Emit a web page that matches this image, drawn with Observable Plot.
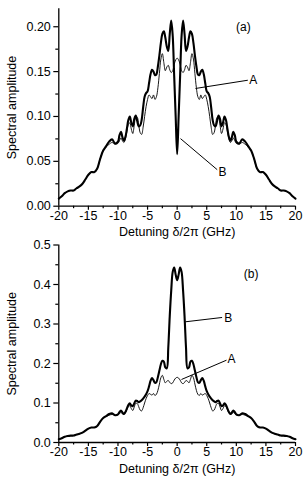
<!DOCTYPE html>
<html><head><meta charset="utf-8">
<script src="https://cdn.jsdelivr.net/npm/d3@7"></script>
<script src="https://cdn.jsdelivr.net/npm/@observablehq/plot@0.6"></script>
<style>
body{margin:0;background:#fff;}
#chart svg{display:block;}
</style></head><body><div id="chart"></div>
<script>
// Detuning grid (GHz)
const detuning = [-20,-19.5,-19,-18.5,-18,-17.5,-17,-16.5,-16,-15.5,-15,-14.5,-14,-13.5,-13,-12.5,-12,-11.5,-11,-10.5,
-10,-9.75,-9.5,-9.25,-9,-8.75,-8.5,-8.25,-8,-7.75,-7.5,-7.25,-7,-6.75,-6.5,-6.25,-6,-5.75,-5.5,-5.25,-5,-4.75,-4.5,-4.25,-4,-3.75,-3.5,-3.25,-3,-2.75,-2.5,-2.25,-2,-1.75,-1.5,-1.25,-1,-0.75,-0.5,-0.25,0,
0.25,0.5,0.75,1,1.25,1.5,1.75,2,2.25,2.5,2.75,3,3.25,3.5,3.75,4,4.25,4.5,4.75,5,5.25,5.5,5.75,6,6.25,6.5,6.75,7,7.25,7.5,7.75,8,8.25,8.5,8.75,9,9.25,9.5,9.75,10,
10.5,11,11.5,12,12.5,13,13.5,14,14.5,15,15.5,16,16.5,17,17.5,18,18.5,19,19.5,20];

// Curve A (thin) – same in both panels
const curveA = [0.0085,0.011,0.0145,0.0165,0.0175,0.0175,0.020,0.022,0.025,0.030,0.035,0.038,0.038,0.042,0.053,0.062,0.066,0.069,0.071,0.069,
0.070,0.073,0.076,0.073,0.071,0.075,0.083,0.091,0.093,0.086,0.081,0.090,0.099,0.099,0.091,0.082,0.080,0.088,0.100,0.111,0.119,0.124,0.122,0.120,0.124,0.119,0.122,0.132,0.148,0.164,0.170,0.160,0.151,0.155,0.157,0.152,0.149,0.151,0.158,0.163,0.165,
0.163,0.158,0.151,0.149,0.152,0.157,0.155,0.151,0.160,0.170,0.164,0.148,0.132,0.122,0.119,0.124,0.120,0.122,0.124,0.119,0.111,0.100,0.088,0.080,0.082,0.091,0.099,0.099,0.090,0.081,0.086,0.093,0.091,0.083,0.075,0.071,0.073,0.076,0.073,0.070,
0.069,0.071,0.069,0.066,0.062,0.053,0.042,0.038,0.038,0.035,0.030,0.025,0.022,0.020,0.0175,0.0175,0.0165,0.0145,0.011,0.0085];

// Curve B (thick), panel (a)
const curveBa = [0.0085,0.011,0.0145,0.0165,0.0175,0.0175,0.020,0.022,0.025,0.030,0.035,0.038,0.038,0.042,0.053,0.062,0.067,0.072,0.0745,0.070,
0.072,0.079,0.083,0.077,0.073,0.077,0.086,0.096,0.100,0.093,0.089,0.097,0.101,0.095,0.089,0.090,0.096,0.110,0.122,0.126,0.128,0.137,0.147,0.152,0.150,0.146,0.147,0.156,0.168,0.182,0.192,0.195,0.188,0.178,0.173,0.192,0.207,0.190,0.145,0.100,0.058,
0.100,0.145,0.190,0.207,0.192,0.173,0.178,0.188,0.195,0.192,0.182,0.168,0.156,0.147,0.146,0.150,0.152,0.147,0.137,0.128,0.126,0.122,0.110,0.096,0.090,0.089,0.095,0.101,0.097,0.089,0.093,0.100,0.096,0.086,0.077,0.073,0.077,0.083,0.079,0.072,
0.070,0.0745,0.072,0.067,0.062,0.053,0.042,0.038,0.038,0.035,0.030,0.025,0.022,0.020,0.0175,0.0175,0.0165,0.0145,0.011,0.0085];

// Curve B (thick), panel (b)
const curveBb = [0.0085,0.011,0.0145,0.0165,0.0175,0.0175,0.020,0.022,0.025,0.030,0.035,0.038,0.038,0.042,0.053,0.062,0.067,0.072,0.074,0.069,
0.071,0.077,0.081,0.076,0.072,0.077,0.086,0.095,0.099,0.094,0.092,0.099,0.106,0.105,0.102,0.104,0.107,0.111,0.116,0.122,0.130,0.142,0.156,0.163,0.158,0.151,0.153,0.166,0.182,0.198,0.207,0.205,0.190,0.188,0.240,0.320,0.385,0.432,0.443,0.425,0.411,
0.425,0.443,0.432,0.385,0.320,0.240,0.188,0.190,0.205,0.207,0.198,0.182,0.166,0.153,0.151,0.158,0.163,0.156,0.142,0.130,0.122,0.116,0.111,0.107,0.104,0.102,0.105,0.106,0.099,0.092,0.094,0.099,0.095,0.086,0.077,0.072,0.076,0.081,0.077,0.071,
0.069,0.074,0.072,0.067,0.062,0.053,0.042,0.038,0.038,0.035,0.030,0.025,0.022,0.020,0.0175,0.0175,0.0165,0.0145,0.011,0.0085];

// Axis ticks
const xMajor = [-20,-15,-10,-5,0,5,10,15,20];
const xMinor = [-17.5,-12.5,-7.5,-2.5,2.5,7.5,12.5,17.5];
const yMajorA = [0,0.05,0.10,0.15,0.20];
const yMinorA = [0.025,0.075,0.125,0.175];
const yMajorB = [0,0.1,0.2,0.3,0.4,0.5];
const yMinorB = [0.05,0.15,0.25,0.35,0.45];

// Annotations
const notesA = [{x:11.2,y:0.200,t:"(a)"},{x:12.85,y:0.1401,t:"A"},{x:7.66,y:0.0374,t:"B"}];
const linksA = [{x1:3.1,y1:0.1312,x2:11.94,y2:0.1404},{x1:0.57,y1:0.0753,x2:6.77,y2:0.0407}];
const notesB = [{x:12.5,y:0.4266,t:"(b)"},{x:8.62,y:0.3139,t:"B"},{x:9.19,y:0.2118,t:"A"}];
const linksB = [{x1:1.41,y1:0.3056,x2:7.6,y2:0.3165},{x1:0.73,y1:0.1595,x2:8.34,y2:0.2084}];

const rows = arr => detuning.map((x, i) => ({x, y: arr[i]}));
const font = "'Liberation Sans', Arial, sans-serif";

function panel({yMax, yMajor, yMinor, yFmt, height, marginTop, marginBottom, thick, notes, links}) {
  return Plot.plot({
    width: 303, height, marginLeft: 58.3, marginRight: 8, marginTop, marginBottom,
    style: {fontFamily: font, fontSize: "12.5px", color: "#000", background: "#fff", overflow: "visible"},
    x: {domain: [-20, 20]},
    y: {domain: [0, yMax]},
    marks: [
      Plot.axisX({ticks: xMajor, tickSize: 4, tickPadding: 1, strokeWidth: 1.2, tickFormat: d => String(d), fontSize: 12.5,
        label: "Detuning \u03b4/2\u03c0 (GHz)", labelAnchor: "center", labelArrow: "none", labelOffset: 30}),
      Plot.axisX({ticks: xMinor, tickSize: 2.5, strokeWidth: 1.2, tickFormat: () => "", label: null}),
      Plot.axisY({ticks: yMajor, tickSize: 5, tickPadding: 3, strokeWidth: 1.2, tickFormat: yFmt, fontSize: 12.5,
        label: "Spectral amplitude", labelAnchor: "center", labelArrow: "none", labelOffset: 52}),
      Plot.axisY({ticks: yMinor, tickSize: 3, strokeWidth: 1.2, tickFormat: () => "", label: null}),
      Plot.ruleX([-20], {strokeWidth: 1.3}),
      Plot.ruleY([0], {strokeWidth: 1.3}),
      Plot.line(rows(curveA), {x: "x", y: "y", stroke: "#000", strokeWidth: 0.9, curve: "catmull-rom"}),
      Plot.line(rows(thick), {x: "x", y: "y", stroke: "#000", strokeWidth: 2.1, curve: "catmull-rom"}),
      Plot.link(links, {x1: "x1", y1: "y1", x2: "x2", y2: "y2", stroke: "#000", strokeWidth: 1}),
      Plot.text(notes, {x: "x", y: "y", text: "t", fontSize: 12, fill: "#000", textAnchor: "middle"})
    ]
  });
}

const chart = document.getElementById("chart");
chart.append(panel({yMax: 0.22, yMajor: yMajorA, yMinor: yMinorA, yFmt: d3.format(".2f"), height: 240, marginTop: 8.3, marginBottom: 34.3, thick: curveBa, notes: notesA, links: linksA}));
chart.append(panel({yMax: 0.5, yMajor: yMajorB, yMinor: yMinorB, yFmt: d3.format(".1f"), height: 246, marginTop: 4.5, marginBottom: 44, thick: curveBb, notes: notesB, links: linksB}));
</script>
</body></html>
